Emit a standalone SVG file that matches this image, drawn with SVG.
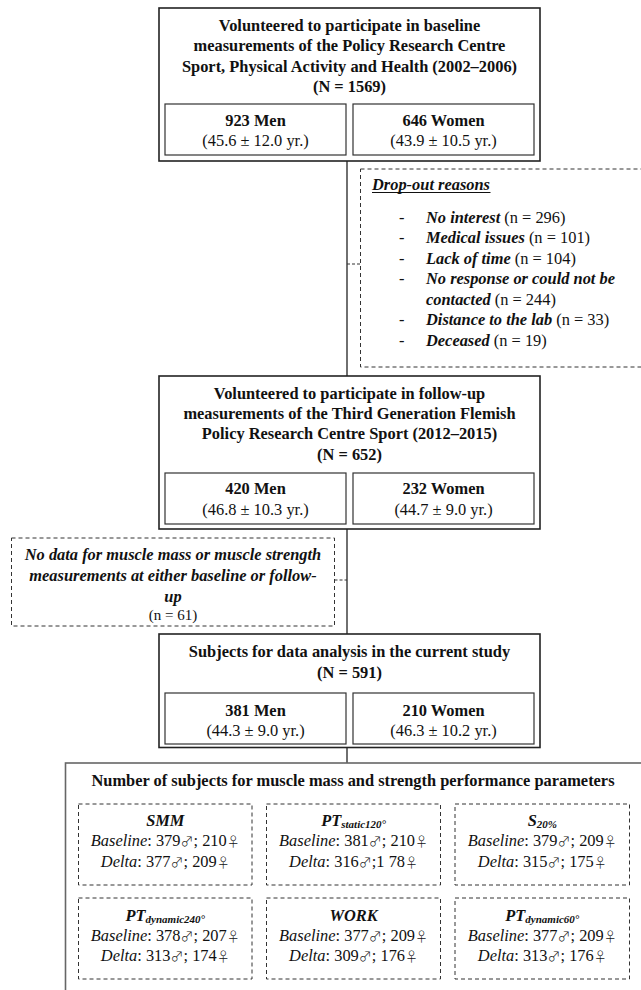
<svg xmlns="http://www.w3.org/2000/svg" width="641" height="990" viewBox="0 0 641 990">
<style>
text{font-family:"Liberation Serif","DejaVu Serif",serif;font-size:16.4px;fill:#111;text-anchor:middle}
.b{font-weight:bold}
.bi{font-weight:bold;font-style:italic}
.i{font-style:italic}
.l{text-anchor:start}
.g{font-family:"Noto Sans CJK JP","DejaVu Sans",sans-serif;font-size:13px;font-weight:300}
.box{fill:#fff;stroke:#222;stroke-width:1.6}
.sub{fill:#fff;stroke:#333;stroke-width:1.2}
.dash{fill:#fff;stroke:#333;stroke-width:1;stroke-dasharray:4 3}
.big{fill:#fff;stroke:#666;stroke-width:1.6}
.conn{stroke:#222;stroke-width:1.3;fill:none}
.dconn{stroke:#333;stroke-width:1;stroke-dasharray:3 2;fill:none}
.s{font-size:11px}
</style>
<rect width="641" height="990" fill="#fff"/>
<g id="connectors">
<line class="conn" x1="347" y1="161" x2="347" y2="376"/>
<line class="conn" x1="347" y1="529" x2="347" y2="634"/>
<line class="conn" x1="347" y1="747" x2="347" y2="763"/>
<line class="dconn" x1="347" y1="264" x2="360.5" y2="264"/>
<line class="dconn" x1="334.5" y1="580" x2="347" y2="580"/>
</g>
<g id="baseline">
<rect class="box" x="159" y="8" width="381" height="153"/>
<text class="b" x="349.5" y="30.5">Volunteered to participate in baseline</text>
<text class="b" x="349.5" y="51">measurements of the Policy Research Centre</text>
<text class="b" x="349.5" y="71.5">Sport, Physical Activity and Health (2002–2006)</text>
<text class="b" x="349.5" y="92">(N = 1569)</text>
<rect class="sub" x="165" y="104" width="181" height="51"/>
<text class="b" x="255.5" y="125.5">923 Men</text>
<text x="255.5" y="145.5">(45.6 ± 12.0 yr.)</text>
<rect class="sub" x="353" y="104" width="181" height="51"/>
<text class="b" x="443.5" y="125.5">646 Women</text>
<text x="443.5" y="145.5">(43.9 ± 10.5 yr.)</text>
</g>
<g id="dropout">
<rect class="dash" x="360.5" y="169" width="290" height="198"/>
<text class="bi l" x="372" y="190">Drop-out reasons</text>
<line x1="372" y1="192.5" x2="490.5" y2="192.5" stroke="#111" stroke-width="1"/>
<text class="l" x="399" y="222.5">-</text><text class="l" x="426" y="222.5"><tspan class="bi">No interest</tspan> (n = 296)</text>
<text class="l" x="399" y="243">-</text><text class="l" x="426" y="243"><tspan class="bi">Medical issues</tspan> (n = 101)</text>
<text class="l" x="399" y="263.5">-</text><text class="l" x="426" y="263.5"><tspan class="bi">Lack of time</tspan> (n = 104)</text>
<text class="l" x="399" y="284">-</text><text class="l bi" x="426" y="284">No response or could not be</text>
<text class="l" x="426" y="304.5"><tspan class="bi">contacted</tspan> (n = 244)</text>
<text class="l" x="399" y="325">-</text><text class="l" x="426" y="325"><tspan class="bi">Distance to the lab</tspan> (n = 33)</text>
<text class="l" x="399" y="345.5">-</text><text class="l" x="426" y="345.5"><tspan class="bi">Deceased</tspan> (n = 19)</text>
</g>
<g id="followup">
<rect class="box" x="159" y="376" width="381" height="153"/>
<text class="b" x="349.5" y="398.5">Volunteered to participate in follow-up</text>
<text class="b" x="349.5" y="418.5">measurements of the Third Generation Flemish</text>
<text class="b" x="349.5" y="439">Policy Research Centre Sport (2012–2015)</text>
<text class="b" x="349.5" y="459.5">(N = 652)</text>
<rect class="sub" x="165" y="473" width="181" height="51"/>
<text class="b" x="255.5" y="494">420 Men</text>
<text x="255.5" y="514.5">(46.8 ± 10.3 yr.)</text>
<rect class="sub" x="353" y="473" width="181" height="51"/>
<text class="b" x="443.5" y="494">232 Women</text>
<text x="443.5" y="514.5">(44.7 ± 9.0 yr.)</text>
</g>
<g id="nodata">
<rect class="dash" x="11.5" y="538" width="323" height="88"/>
<text class="bi" x="173" y="559.5">No data for muscle mass or muscle strength</text>
<text class="bi" x="173" y="580.5">measurements at either baseline or follow-</text>
<text class="bi" x="173" y="601.5">up</text>
<text x="173" y="619.5" style="font-size:15px">(n = 61)</text>
</g>
<g id="analysis">
<rect class="box" x="159" y="634" width="381" height="113.5"/>
<text class="b" x="349.5" y="656.5">Subjects for data analysis in the current study</text>
<text class="b" x="349.5" y="678">(N = 591)</text>
<rect class="sub" x="165" y="693" width="181" height="51"/>
<text class="b" x="255.5" y="715.5">381 Men</text>
<text x="255.5" y="736">(44.3 ± 9.0 yr.)</text>
<rect class="sub" x="353" y="693" width="181" height="51"/>
<text class="b" x="443.5" y="715.5">210 Women</text>
<text x="443.5" y="736">(46.3 ± 10.2 yr.)</text>
</g>
<g id="parameters">
<rect class="big" x="65.5" y="763" width="600" height="250"/>
<text class="b" x="353" y="785.5">Number of subjects for muscle mass and strength performance parameters</text>
</g>
<g id="smm">
<rect class="dash" x="78.5" y="804" width="173.5" height="81"/>
<text class="bi" x="165.3" y="825.5">SMM</text>
<text x="165.3" y="846"><tspan class="i">Baseline</tspan>: 379<tspan class="g">♂</tspan>; 210<tspan class="g">♀</tspan></text>
<text x="165.3" y="866.5"><tspan class="i">Delta</tspan>: 377<tspan class="g">♂</tspan>; 209<tspan class="g">♀</tspan></text>
</g>
<g id="ptstatic120">
<rect class="dash" x="266.5" y="804" width="174" height="81"/>
<text class="bi" x="353.6" y="825.5">PT<tspan class="s" dy="2.5">static120°</tspan></text>
<text x="353.6" y="846"><tspan class="i">Baseline</tspan>: 381<tspan class="g">♂</tspan>; 210<tspan class="g">♀</tspan></text>
<text x="353.6" y="866.5"><tspan class="i">Delta</tspan>: 316<tspan class="g">♂</tspan>;1 78<tspan class="g">♀</tspan></text>
</g>
<g id="s20">
<rect class="dash" x="455" y="804" width="174.5" height="81"/>
<text class="bi" x="542.3" y="825.5">S<tspan class="s" dy="2.5">20%</tspan></text>
<text x="542.3" y="846"><tspan class="i">Baseline</tspan>: 379<tspan class="g">♂</tspan>; 209<tspan class="g">♀</tspan></text>
<text x="542.3" y="866.5"><tspan class="i">Delta</tspan>: 315<tspan class="g">♂</tspan>; 175<tspan class="g">♀</tspan></text>
</g>
<g id="ptdynamic240">
<rect class="dash" x="78.5" y="898" width="173.5" height="81"/>
<text class="bi" x="165.3" y="920.5">PT<tspan class="s" dy="2.5">dynamic240°</tspan></text>
<text x="165.3" y="940.5"><tspan class="i">Baseline</tspan>: 378<tspan class="g">♂</tspan>; 207<tspan class="g">♀</tspan></text>
<text x="165.3" y="960.5"><tspan class="i">Delta</tspan>: 313<tspan class="g">♂</tspan>; 174<tspan class="g">♀</tspan></text>
</g>
<g id="work">
<rect class="dash" x="266.5" y="898" width="174" height="81"/>
<text class="bi" x="353.6" y="920.5">WORK</text>
<text x="353.6" y="940.5"><tspan class="i">Baseline</tspan>: 377<tspan class="g">♂</tspan>; 209<tspan class="g">♀</tspan></text>
<text x="353.6" y="960.5"><tspan class="i">Delta</tspan>: 309<tspan class="g">♂</tspan>; 176<tspan class="g">♀</tspan></text>
</g>
<g id="ptdynamic60">
<rect class="dash" x="455" y="898" width="174.5" height="81"/>
<text class="bi" x="542.3" y="920.5">PT<tspan class="s" dy="2.5">dynamic60°</tspan></text>
<text x="542.3" y="940.5"><tspan class="i">Baseline</tspan>: 377<tspan class="g">♂</tspan>; 209<tspan class="g">♀</tspan></text>
<text x="542.3" y="960.5"><tspan class="i">Delta</tspan>: 313<tspan class="g">♂</tspan>; 176<tspan class="g">♀</tspan></text>
</g>
</svg>
